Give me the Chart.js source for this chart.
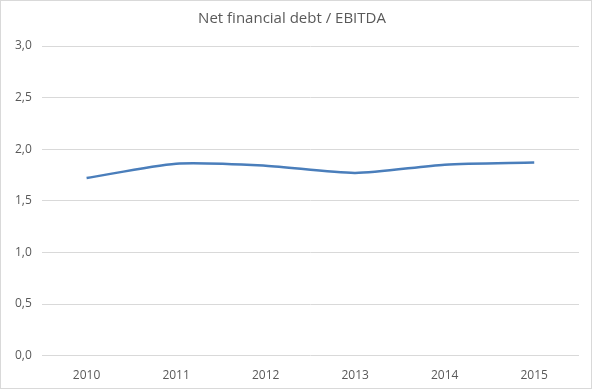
<!DOCTYPE html>
<html>
<head>
<meta charset="utf-8">
<script src="https://cdn.jsdelivr.net/npm/chart.js@4"></script>
<style>
  html, body { margin: 0; padding: 0; background: #fff; }
  .wrap { width: 592px; height: 389px; box-sizing: border-box; border: 1px solid #d9d9d9; position: relative; }
</style>
</head>
<body>
<div class="wrap"><canvas id="chart"></canvas></div>
<script>
// values
const years = ['2010', '2011', '2012', '2013', '2014', '2015'];
const debtRatio = [1.72, 1.86, 1.84, 1.77, 1.85, 1.87];
const yTicks = [0, 0.5, 1, 1.5, 2, 2.5, 3];

const ctx = document.getElementById('chart');
new Chart(ctx, {
  type: 'line',
  data: {
    labels: years,
    datasets: [{
      label: 'Net financial debt / EBITDA',
      data: debtRatio,
      borderColor: '#4a7ebb',
      borderWidth: 2.5,
      pointRadius: 0,
      tension: 0.25,
      fill: false,
    }],
  },
  options: {
    responsive: true,
    maintainAspectRatio: false,
    animation: false,
    layout: { padding: { left: 4, right: 12, top: 3, bottom: 0 } },
    plugins: {
      legend: { display: false },
      tooltip: { enabled: false },
      title: {
        display: true,
        text: 'Net financial debt / EBITDA',
        color: '#595959',
        font: { family: 'Open Sans', size: 15, weight: 'normal' },
        padding: { top: 6, bottom: 18 },
      },
    },
    scales: {
      x: {
        offset: true,
        grid: { display: false },
        border: { display: false },
        ticks: { color: '#595959', font: { family: 'Open Sans', size: 12 }, padding: 5 },
      },
      y: {
        min: 0,
        max: 3,
        afterBuildTicks: (axis) => { axis.ticks = yTicks.map(v => ({ value: v })); },
        grid: { color: '#d9d9d9', lineWidth: 1, drawTicks: false },
        border: { display: false },
        ticks: {
          color: '#595959',
          font: { family: 'Open Sans', size: 12 },
          padding: 10,
          callback: (v) => v.toFixed(1).replace('.', ','),
        },
      },
    },
  },
});
</script>
</body>
</html>
